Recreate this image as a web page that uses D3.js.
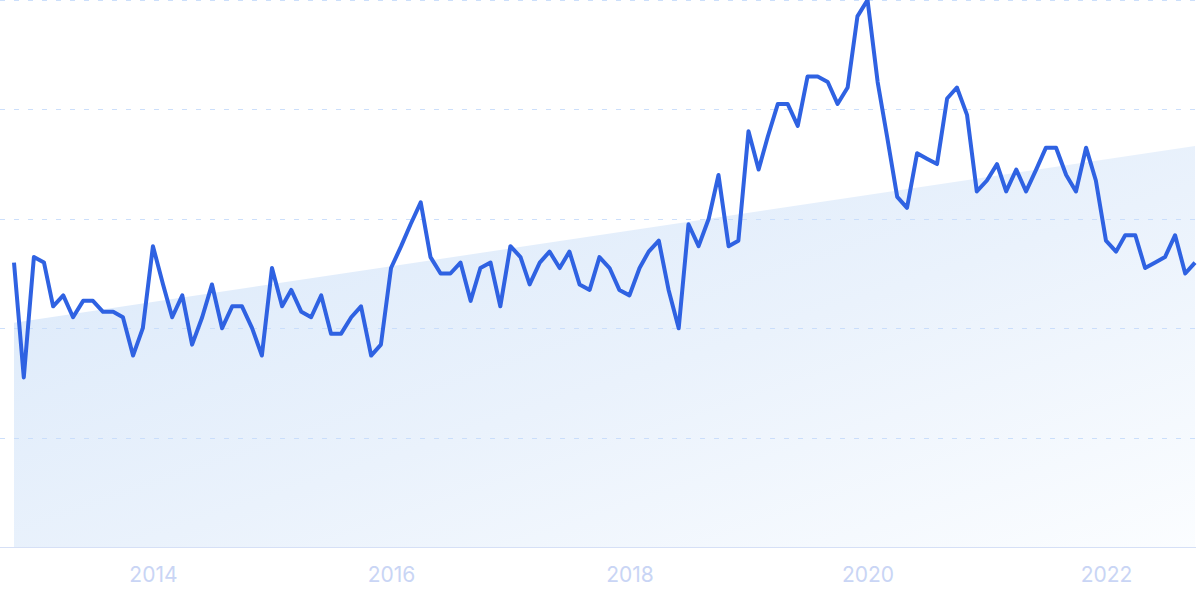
<!DOCTYPE html>
<html>
<head>
<meta charset="utf-8">
<script src="https://cdn.jsdelivr.net/npm/d3@7"></script>
<style>
  html, body { margin: 0; padding: 0; background: #ffffff; overflow: hidden; }
  svg { display: block; }
</style>
</head>
<body>
<svg id="chart" width="1200" height="599"></svg>
<script>
// Monthly values, Nov 2012 .. Oct 2022
const startMonth = "2012-11";
const values = [52, 31, 53, 52, 44, 46, 42, 45, 45, 43, 43, 42, 35, 40, 55, 48, 42, 46, 37, 42,
  48, 40, 44, 44, 40, 35, 51, 44, 47, 43, 42, 46, 39, 39, 42, 44, 35, 37, 51, 55,
  59, 63, 53, 50, 50, 52, 45, 51, 52, 44, 55, 53, 48, 52, 54, 51, 54, 48, 47, 53,
  51, 47, 46, 51, 54, 56, 47, 40, 59, 55, 60, 68, 55, 56, 76, 69, 75, 81, 81, 77,
  86, 86, 85, 81, 84, 97, 100, 85, 75, 64, 62, 72, 71, 70, 82, 84, 79, 65, 67, 70,
  65, 69, 65, 69, 73, 73, 68, 65, 73, 67, 56, 54, 57, 57, 51, 52, 53, 57, 50, 52];
// trend line (start, end)
const trendValues = [41.0, 73.3];
const tickYears = [2014, 2016, 2018, 2020, 2022];
const gridValues = [20, 40, 60, 80, 100];

const W = 1200, H = 599;
const svg = d3.select("#chart");

const parse = d3.timeParse("%Y-%m");
const t0 = parse(startMonth);
const dates = values.map((v, i) => d3.timeMonth.offset(t0, i));
const data = values.map((v, i) => ({ date: dates[i], value: v }));

const x = d3.scaleTime()
  .domain([dates[0], dates[dates.length - 1]])
  .range([14, 1195]);
const y = d3.scaleLinear().domain([0, 100]).range([547, 0]);

const defs = svg.append("defs");
const grad = defs.append("linearGradient")
  .attr("id", "trendFill")
  .attr("x1", "0%").attr("y1", "0%")
  .attr("x2", "100%").attr("y2", "100%");
grad.append("stop").attr("offset", "0%").attr("stop-color", "#d9e8fa");
grad.append("stop").attr("offset", "55%").attr("stop-color", "#eaf2fc");
grad.append("stop").attr("offset", "100%").attr("stop-color", "#fbfdff");

// trend area
const trendData = [
  { date: dates[0], value: trendValues[0] },
  { date: dates[dates.length - 1], value: trendValues[1] }
];
svg.append("path")
  .datum(trendData)
  .attr("fill", "url(#trendFill)")
  .attr("d", d3.area()
    .x(d => x(d.date))
    .y0(y(0))
    .y1(d => y(d.value)));

// gridlines
svg.append("g")
  .selectAll("line")
  .data(gridValues)
  .join("line")
  .attr("x1", 0).attr("x2", 1196)
  .attr("y1", d => Math.max(0.5, Math.round(y(d)) + 0.5))
  .attr("y2", d => Math.max(0.5, Math.round(y(d)) + 0.5))
  .attr("stroke", "#c6dcfb")
  .attr("stroke-opacity", 0.9)
  .attr("stroke-width", 1.2)
  .attr("stroke-dasharray", "5,9");

// x axis
const xAxis = d3.axisBottom(x)
  .tickValues(tickYears.map(yr => new Date(yr, 0, 1)))
  .tickFormat(d3.timeFormat("%Y"))
  .tickSize(0)
  .tickPadding(0);
const gx = svg.append("g")
  .attr("transform", `translate(0,${y(0)})`)
  .call(xAxis);
gx.select(".domain").remove();
gx.append("line")
  .attr("x1", 0).attr("x2", 1196)
  .attr("y1", 0.5).attr("y2", 0.5)
  .attr("stroke", "#d6e0f6")
  .attr("stroke-width", 1.2);
gx.selectAll("text")
  .attr("y", 35)
  .attr("dy", 0)
  .attr("fill", "#c9d5f5")
  .attr("font-family", "Inter, 'Open Sans', sans-serif")
  .attr("font-size", 21);

// main line
svg.append("path")
  .datum(data)
  .attr("fill", "none")
  .attr("stroke", "#2f62e2")
  .attr("stroke-width", 4)
  .attr("stroke-linejoin", "round")
  .attr("stroke-linecap", "butt")
  .attr("d", d3.line().x(d => x(d.date)).y(d => y(d.value)));
</script>
</body>
</html>
